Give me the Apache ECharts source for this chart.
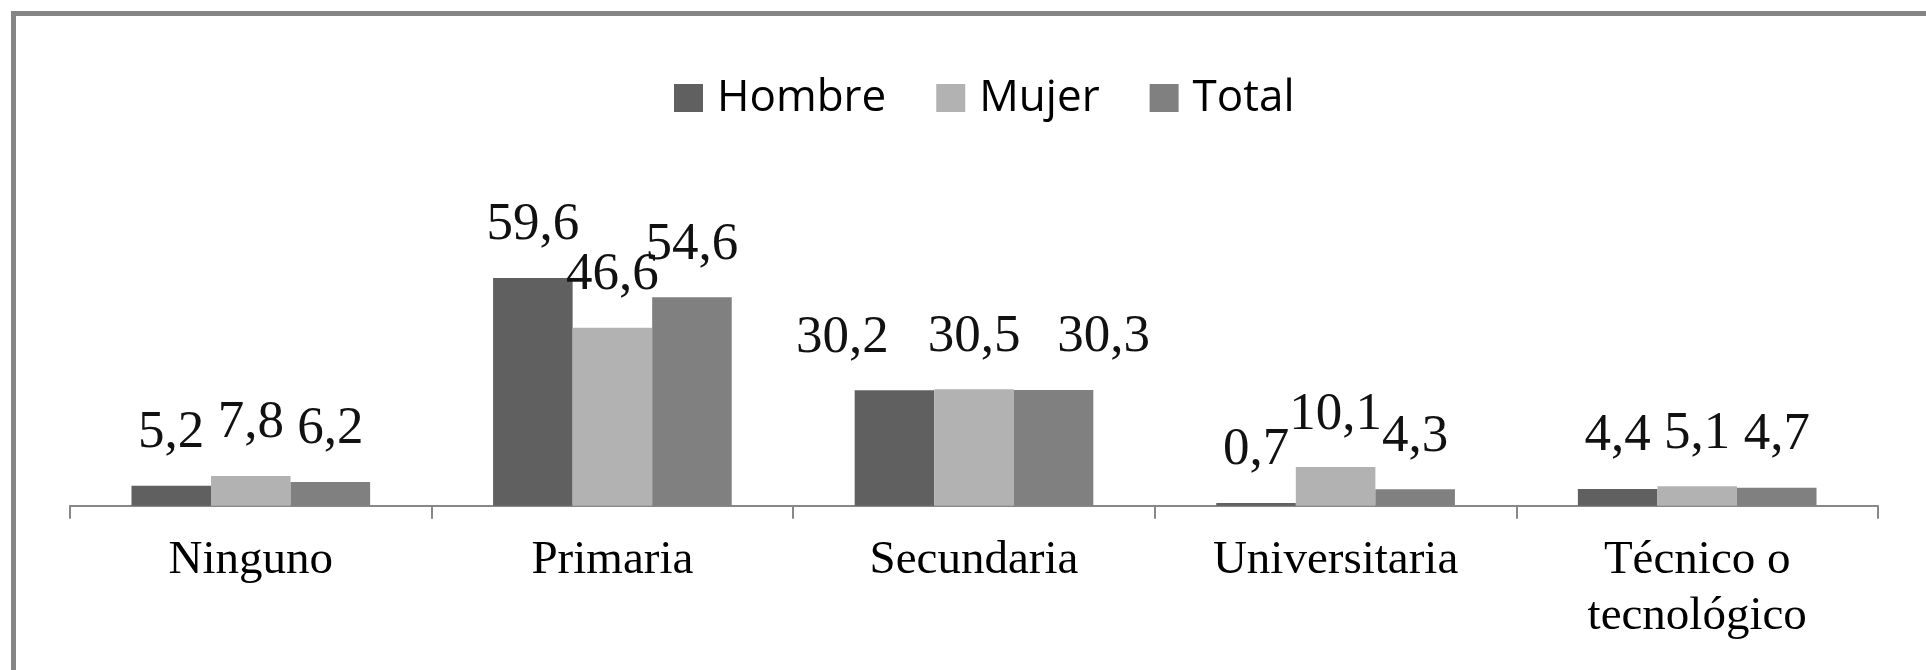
<!DOCTYPE html>
<html>
<head>
<meta charset="utf-8">
<script src="https://cdn.jsdelivr.net/npm/echarts@6/dist/echarts.min.js"></script>
<style>
  html, body { margin: 0; padding: 0; background: #fff; }
  #chart { width: 1926px; height: 670px; }
</style>
</head>
<body>
<div id="chart"></div>
<script>
var categories = ['Ninguno', 'Primaria', 'Secundaria', 'Universitaria', 'Técnico o\ntecnológico'];
var hombre = [5.2, 59.6, 30.2, 0.7, 4.4];
var mujer = [7.8, 46.6, 30.5, 10.1, 5.1];
var total = [6.2, 54.6, 30.3, 4.3, 4.7];

// labels in the Secundaria group were pulled apart by hand in the original
var secundariaShift = { Hombre: -52, Mujer: 0, Total: 50 };

var chart = echarts.init(document.getElementById('chart'));

function commaLabel(p) {
    return p.value.toFixed(1).replace('.', ',');
}

function withShift(name, values) {
    return values.map(function (v, i) {
        if (categories[i] === 'Secundaria' && secundariaShift[name]) {
            return { value: v, label: { offset: [secundariaShift[name], 0] } };
        }
        return v;
    });
}

var labelStyle = {
    show: true,
    position: 'top',
    distance: 26,
    fontFamily: 'Liberation Serif',
    fontSize: 53,
    lineHeight: 53,
    color: '#111',
    formatter: commaLabel
};

option = {
    animation: false,
    backgroundColor: '#fff',
    graphic: [
        { type: 'rect', shape: { x: 11, y: 11, width: 1915, height: 5 }, style: { fill: '#858585' } },
        { type: 'rect', shape: { x: 11, y: 11, width: 5, height: 659 }, style: { fill: '#858585' } }
    ],
    legend: {
        left: 669,
        top: 71,
        itemWidth: 29,
        itemHeight: 28,
        itemGap: 50,
        icon: 'rect',
        textStyle: {
            fontFamily: 'Open Sans',
            fontSize: 44,
            lineHeight: 44,
            color: '#000',
            padding: [0, 0, 0, 9]
        },
        data: ['Hombre', 'Mujer', 'Total']
    },
    grid: {
        left: 70,
        right: 48,
        top: 238.3,
        bottom: 164.3
    },
    xAxis: {
        type: 'category',
        data: categories,
        axisLine: { lineStyle: { color: '#888', width: 2 } },
        axisTick: { show: true, length: 13, lineStyle: { color: '#888', width: 2 } },
        axisLabel: {
            margin: 27,
            fontFamily: 'Liberation Serif',
            fontSize: 47,
            lineHeight: 56,
            color: '#000',
            interval: 0
        }
    },
    yAxis: {
        type: 'value',
        min: 0,
        max: 70,
        show: false,
        splitLine: { show: false }
    },
    series: [
        {
            name: 'Hombre',
            type: 'bar',
            data: withShift('Hombre', hombre),
            barGap: '0%',
            barCategoryGap: '34%',
            itemStyle: { color: '#606060' },
            label: labelStyle
        },
        {
            name: 'Mujer',
            type: 'bar',
            data: withShift('Mujer', mujer),
            barGap: '0%',
            barCategoryGap: '34%',
            itemStyle: { color: '#b2b2b2' },
            label: labelStyle
        },
        {
            name: 'Total',
            type: 'bar',
            data: withShift('Total', total),
            barGap: '0%',
            barCategoryGap: '34%',
            itemStyle: { color: '#808080' },
            label: labelStyle
        }
    ]
};

chart.setOption(option);
</script>
</body>
</html>
